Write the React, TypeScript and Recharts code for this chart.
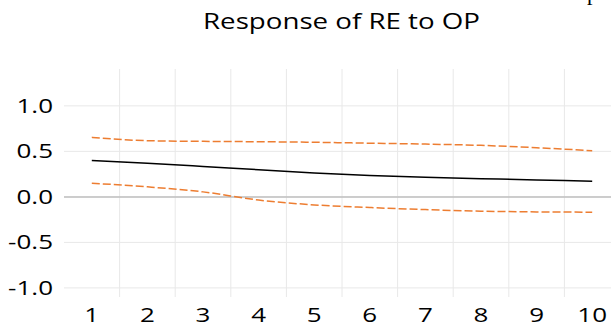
import { LineChart, Line, XAxis, YAxis, CartesianGrid, ReferenceLine } from 'recharts';

const periods = [1, 2, 3, 4, 5, 6, 7, 8, 9, 10];
const response = [0.4, 0.37, 0.335, 0.298, 0.262, 0.234, 0.215, 0.2, 0.186, 0.172];
const upperBand = [0.654, 0.617, 0.61, 0.606, 0.6, 0.59, 0.58, 0.566, 0.54, 0.507];
const lowerBand = [0.15, 0.11, 0.055, -0.035, -0.088, -0.117, -0.14, -0.157, -0.165, -0.168];
const yTicks = [-1, -0.5, 0, 0.5, 1];
const gridTicks = [1.5, 2.5, 3.5, 4.5, 5.5, 6.5, 7.5, 8.5, 9.5];
const xDomain: [number, number] = [0.5, 10.5];
const yDomain: [number, number] = [-1.1, 1.405];

const data = periods.map((p, i) => ({
  period: p,
  response: response[i],
  upper: upperBand[i],
  lower: lowerBand[i],
}));

const FONT = '"Open Sans", sans-serif';
const STRETCH = 1.3;

function YTick(props: any) {
  const { x, y, payload } = props;
  return (
    <text
      transform={`translate(${x},${y}) scale(${STRETCH},1)`}
      dy={7}
      textAnchor="end"
      fontFamily={FONT}
      fontSize={20}
      fill="#000"
    >
      {payload.value.toFixed(1)}
    </text>
  );
}

function XTick(props: any) {
  const { x, y, payload } = props;
  return (
    <text
      transform={`translate(${x},${y}) scale(${STRETCH},1)`}
      dy={25}
      textAnchor="middle"
      fontFamily={FONT}
      fontSize={20}
      fill="#000"
    >
      {payload.value}
    </text>
  );
}

// vertical grid lines sit between categories, like Excel's category gridlines
const betweenCategories = ({ offset }: any) =>
  gridTicks.map((t) => offset.left + ((t - xDomain[0]) / (xDomain[1] - xDomain[0])) * offset.width);

// horizontal grid lines only at the labelled values, no frame at the plot edges
const atValueTicks = ({ offset }: any) =>
  yTicks.map((v) => offset.top + ((yDomain[1] - v) / (yDomain[1] - yDomain[0])) * offset.height);

export default function App() {
  return (
    <div style={{ position: 'absolute', left: 0, top: 0, width: 611, height: 330, overflow: 'hidden', background: '#fff' }}>
      <div style={{ position: 'absolute', left: 0, top: 0 }}>
        <LineChart width={640} height={330} data={data} margin={{ top: 69, right: 20, bottom: 0, left: 0 }}>
          <CartesianGrid
            stroke="#e8e8e8"
            strokeWidth={1}
            verticalCoordinatesGenerator={betweenCategories}
            horizontalCoordinatesGenerator={atValueTicks}
          />
          <XAxis
            type="number"
            dataKey="period"
            domain={xDomain}
            ticks={periods}
            axisLine={false}
            tickLine={false}
            tickSize={0}
            tickMargin={0}
            height={33}
            tick={<XTick />}
            interval={0}
          />
          <YAxis
            type="number"
            domain={yDomain}
            ticks={yTicks}
            allowDataOverflow
            axisLine={false}
            tickLine={false}
            tickSize={0}
            tickMargin={11}
            width={64}
            tick={<YTick />}
            interval={0}
          />
          <ReferenceLine y={0} stroke="#bfbfbf" strokeWidth={1.5} />
          <Line type="monotone" dataKey="upper" stroke="#ED7D31" strokeWidth={1.5} strokeDasharray="8 3" dot={false} isAnimationActive={false} />
          <Line type="monotone" dataKey="lower" stroke="#ED7D31" strokeWidth={1.5} strokeDasharray="8 3" dot={false} isAnimationActive={false} />
          <Line type="monotone" dataKey="response" stroke="#000" strokeWidth={1.5} dot={false} isAnimationActive={false} />
        </LineChart>
      </div>
      <svg width={611} height={330} style={{ position: 'absolute', left: 0, top: 0, pointerEvents: 'none' }}>
        <text x={341.5} y={29} textAnchor="middle" fontFamily={FONT} fontSize={21} fill="#000"
          textLength={277} lengthAdjust="spacingAndGlyphs">
          Response of RE to OP
        </text>
        <text x={587} y={0} fontFamily='"Liberation Serif", serif' fontSize={22} fill="#000">p</text>
      </svg>
    </div>
  );
}
